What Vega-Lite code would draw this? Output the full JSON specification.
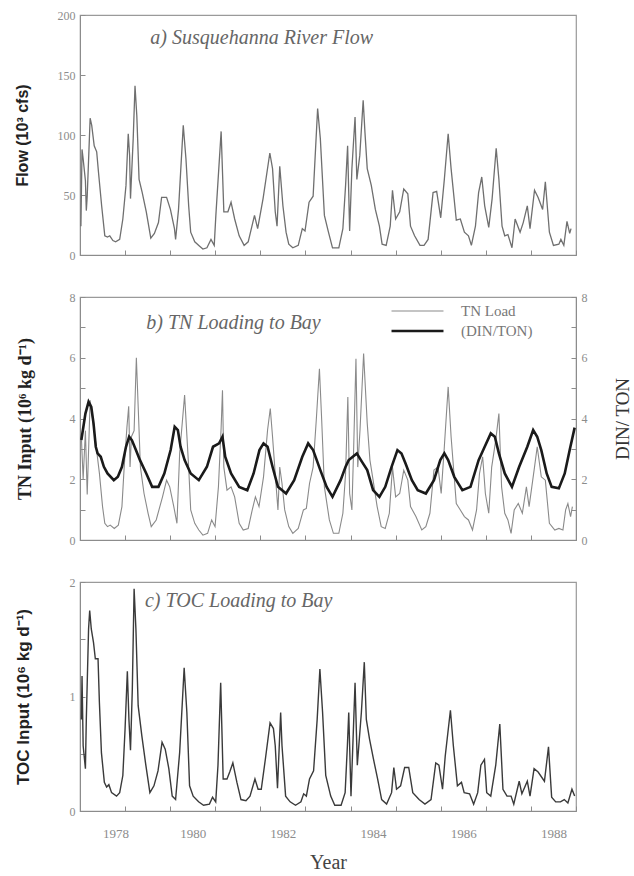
{
  "$schema": "https://vega.github.io/schema/vega-lite/v6.json",
  "background": "white",
  "padding": {"left": 13, "top": 8, "right": 5, "bottom": 0},
  "spacing": 42,
  "bounds": "flush",
  "datasets": {
    "flow": [
      {"t":1978.02,"v":24},{"t":1978.045,"v":88},{"t":1978.07,"v":80},{"t":1978.12,"v":62},{"t":1978.14,"v":37},{"t":1978.16,"v":49},{"t":1978.225,"v":114},{"t":1978.26,"v":108},{"t":1978.315,"v":91},{"t":1978.37,"v":86},{"t":1978.41,"v":69},{"t":1978.48,"v":41},{"t":1978.55,"v":16},{"t":1978.61,"v":15},{"t":1978.66,"v":16},{"t":1978.73,"v":12},{"t":1978.79,"v":11},{"t":1978.88,"v":13},{"t":1978.95,"v":30},
      {"t":1979.02,"v":58},{"t":1979.07,"v":101},{"t":1979.10,"v":83},{"t":1979.12,"v":47},{"t":1979.18,"v":97},{"t":1979.22,"v":141},{"t":1979.26,"v":116},{"t":1979.31,"v":63},{"t":1979.38,"v":52},{"t":1979.47,"v":36},{"t":1979.57,"v":14},{"t":1979.65,"v":18},{"t":1979.74,"v":27},{"t":1979.81,"v":48},{"t":1979.92,"v":48},
      {"t":1980.005,"v":38},{"t":1980.095,"v":22},{"t":1980.12,"v":13},{"t":1980.185,"v":38},{"t":1980.29,"v":108},{"t":1980.35,"v":80},{"t":1980.41,"v":41},{"t":1980.455,"v":19},{"t":1980.545,"v":11},{"t":1980.635,"v":8},{"t":1980.725,"v":5},{"t":1980.815,"v":6},{"t":1980.905,"v":13},{"t":1980.977,"v":8},
      {"t":1981.013,"v":33},{"t":1981.13,"v":103},{"t":1981.19,"v":36},{"t":1981.28,"v":36},{"t":1981.35,"v":44},{"t":1981.43,"v":30},{"t":1981.53,"v":16},{"t":1981.64,"v":8},{"t":1981.73,"v":11},{"t":1981.80,"v":22},{"t":1981.87,"v":33},{"t":1981.94,"v":22},
      {"t":1982.06,"v":47},{"t":1982.21,"v":85},{"t":1982.27,"v":72},{"t":1982.33,"v":36},{"t":1982.37,"v":24},{"t":1982.43,"v":74},{"t":1982.50,"v":41},{"t":1982.57,"v":19},{"t":1982.63,"v":9},{"t":1982.72,"v":6},{"t":1982.84,"v":8},{"t":1982.93,"v":22},{"t":1982.99,"v":20},
      {"t":1983.08,"v":44},{"t":1983.17,"v":49},{"t":1983.27,"v":122},{"t":1983.33,"v":97},{"t":1983.42,"v":33},{"t":1983.51,"v":19},{"t":1983.60,"v":6},{"t":1983.74,"v":6},{"t":1983.83,"v":22},{"t":1983.89,"v":58},{"t":1983.935,"v":91},{"t":1983.98,"v":20},
      {"t":1984.03,"v":72},{"t":1984.10,"v":115},{"t":1984.14,"v":63},{"t":1984.205,"v":83},{"t":1984.28,"v":129},{"t":1984.32,"v":102},{"t":1984.37,"v":72},{"t":1984.46,"v":58},{"t":1984.55,"v":38},{"t":1984.64,"v":24},{"t":1984.70,"v":9},{"t":1984.79,"v":8},{"t":1984.88,"v":24},{"t":1984.93,"v":54},
      {"t":1985.00,"v":30},{"t":1985.09,"v":36},{"t":1985.18,"v":55},{"t":1985.27,"v":51},{"t":1985.33,"v":24},{"t":1985.42,"v":16},{"t":1985.54,"v":8},{"t":1985.63,"v":8},{"t":1985.72,"v":13},{"t":1985.83,"v":52},{"t":1985.91,"v":53},
      {"t":1986.00,"v":31},{"t":1986.08,"v":63},{"t":1986.165,"v":101},{"t":1986.23,"v":72},{"t":1986.345,"v":29},{"t":1986.435,"v":30},{"t":1986.525,"v":19},{"t":1986.615,"v":16},{"t":1986.68,"v":8},{"t":1986.77,"v":24},{"t":1986.84,"v":52},{"t":1986.91,"v":65},{"t":1986.975,"v":41},
      {"t":1987.065,"v":23},{"t":1987.14,"v":47},{"t":1987.23,"v":89},{"t":1987.29,"v":63},{"t":1987.36,"v":24},{"t":1987.42,"v":16},{"t":1987.49,"v":17},{"t":1987.58,"v":6},{"t":1987.65,"v":30},{"t":1987.76,"v":19},{"t":1987.83,"v":27},{"t":1987.92,"v":41},{"t":1987.98,"v":22},
      {"t":1988.08,"v":54},{"t":1988.16,"v":48},{"t":1988.26,"v":38},{"t":1988.32,"v":61},{"t":1988.41,"v":19},{"t":1988.50,"v":8},{"t":1988.62,"v":9},{"t":1988.665,"v":13},{"t":1988.73,"v":8},{"t":1988.80,"v":28},{"t":1988.86,"v":18},{"t":1988.89,"v":22}
    ],
    "tn": [
      {"t":1978.03,"v":3.4,"s":"TN Load"},{"t":1978.07,"v":2.0,"s":"TN Load"},{"t":1978.12,"v":3.6,"s":"TN Load"},{"t":1978.16,"v":1.5,"s":"TN Load"},{"t":1978.225,"v":4.6,"s":"TN Load"},{"t":1978.34,"v":3.3,"s":"TN Load"},{"t":1978.43,"v":2.2,"s":"TN Load"},{"t":1978.50,"v":1.1,"s":"TN Load"},{"t":1978.55,"v":0.55,"s":"TN Load"},{"t":1978.61,"v":0.44,"s":"TN Load"},{"t":1978.67,"v":0.49,"s":"TN Load"},{"t":1978.76,"v":0.38,"s":"TN Load"},{"t":1978.85,"v":0.49,"s":"TN Load"},{"t":1978.93,"v":1.1,"s":"TN Load"},{"t":1978.98,"v":2.4,"s":"TN Load"},
      {"t":1979.04,"v":3.7,"s":"TN Load"},{"t":1979.08,"v":4.4,"s":"TN Load"},{"t":1979.11,"v":2.4,"s":"TN Load"},{"t":1979.14,"v":3.4,"s":"TN Load"},{"t":1979.20,"v":3.6,"s":"TN Load"},{"t":1979.25,"v":6.0,"s":"TN Load"},{"t":1979.29,"v":4.4,"s":"TN Load"},{"t":1979.34,"v":2.4,"s":"TN Load"},{"t":1979.42,"v":1.53,"s":"TN Load"},{"t":1979.51,"v":0.88,"s":"TN Load"},{"t":1979.58,"v":0.44,"s":"TN Load"},{"t":1979.69,"v":0.66,"s":"TN Load"},{"t":1979.83,"v":1.42,"s":"TN Load"},{"t":1979.92,"v":1.97,"s":"TN Load"},{"t":1979.99,"v":1.75,"s":"TN Load"},
      {"t":1980.08,"v":1.1,"s":"TN Load"},{"t":1980.15,"v":0.55,"s":"TN Load"},{"t":1980.21,"v":2.85,"s":"TN Load"},{"t":1980.32,"v":4.77,"s":"TN Load"},{"t":1980.41,"v":2.4,"s":"TN Load"},{"t":1980.455,"v":0.99,"s":"TN Load"},{"t":1980.545,"v":0.55,"s":"TN Load"},{"t":1980.635,"v":0.33,"s":"TN Load"},{"t":1980.725,"v":0.16,"s":"TN Load"},{"t":1980.83,"v":0.22,"s":"TN Load"},{"t":1980.92,"v":0.66,"s":"TN Load"},{"t":1980.995,"v":0.44,"s":"TN Load"},
      {"t":1981.07,"v":1.75,"s":"TN Load"},{"t":1981.13,"v":3.7,"s":"TN Load"},{"t":1981.16,"v":4.93,"s":"TN Load"},{"t":1981.19,"v":2.4,"s":"TN Load"},{"t":1981.26,"v":1.64,"s":"TN Load"},{"t":1981.35,"v":1.75,"s":"TN Load"},{"t":1981.43,"v":1.42,"s":"TN Load"},{"t":1981.53,"v":0.55,"s":"TN Load"},{"t":1981.62,"v":0.33,"s":"TN Load"},{"t":1981.73,"v":0.38,"s":"TN Load"},{"t":1981.82,"v":0.99,"s":"TN Load"},{"t":1981.89,"v":1.42,"s":"TN Load"},{"t":1981.97,"v":1.1,"s":"TN Load"},
      {"t":1982.07,"v":2.08,"s":"TN Load"},{"t":1982.16,"v":3.62,"s":"TN Load"},{"t":1982.22,"v":4.33,"s":"TN Load"},{"t":1982.27,"v":3.4,"s":"TN Load"},{"t":1982.34,"v":1.97,"s":"TN Load"},{"t":1982.39,"v":0.99,"s":"TN Load"},{"t":1982.43,"v":2.4,"s":"TN Load"},{"t":1982.48,"v":1.86,"s":"TN Load"},{"t":1982.54,"v":0.99,"s":"TN Load"},{"t":1982.63,"v":0.44,"s":"TN Load"},{"t":1982.72,"v":0.22,"s":"TN Load"},{"t":1982.84,"v":0.38,"s":"TN Load"},{"t":1982.955,"v":0.99,"s":"TN Load"},
      {"t":1983.02,"v":1.04,"s":"TN Load"},{"t":1983.09,"v":1.86,"s":"TN Load"},{"t":1983.17,"v":2.4,"s":"TN Load"},{"t":1983.24,"v":3.95,"s":"TN Load"},{"t":1983.31,"v":5.64,"s":"TN Load"},{"t":1983.36,"v":3.95,"s":"TN Load"},{"t":1983.42,"v":1.75,"s":"TN Load"},{"t":1983.53,"v":0.66,"s":"TN Load"},{"t":1983.62,"v":0.22,"s":"TN Load"},{"t":1983.74,"v":0.22,"s":"TN Load"},{"t":1983.83,"v":0.88,"s":"TN Load"},{"t":1983.89,"v":2.19,"s":"TN Load"},{"t":1983.94,"v":4.71,"s":"TN Load"},{"t":1983.98,"v":1.53,"s":"TN Load"},
      {"t":1984.03,"v":0.99,"s":"TN Load"},{"t":1984.07,"v":3.07,"s":"TN Load"},{"t":1984.12,"v":5.97,"s":"TN Load"},{"t":1984.16,"v":2.4,"s":"TN Load"},{"t":1984.21,"v":3.62,"s":"TN Load"},{"t":1984.29,"v":6.14,"s":"TN Load"},{"t":1984.32,"v":5.26,"s":"TN Load"},{"t":1984.37,"v":3.84,"s":"TN Load"},{"t":1984.43,"v":2.63,"s":"TN Load"},{"t":1984.50,"v":1.97,"s":"TN Load"},{"t":1984.59,"v":1.1,"s":"TN Load"},{"t":1984.68,"v":0.44,"s":"TN Load"},{"t":1984.77,"v":0.38,"s":"TN Load"},{"t":1984.86,"v":0.88,"s":"TN Load"},{"t":1984.93,"v":2.4,"s":"TN Load"},
      {"t":1985.00,"v":1.42,"s":"TN Load"},{"t":1985.09,"v":1.53,"s":"TN Load"},{"t":1985.18,"v":2.3,"s":"TN Load"},{"t":1985.27,"v":1.97,"s":"TN Load"},{"t":1985.33,"v":1.1,"s":"TN Load"},{"t":1985.45,"v":0.77,"s":"TN Load"},{"t":1985.58,"v":0.33,"s":"TN Load"},{"t":1985.67,"v":0.44,"s":"TN Load"},{"t":1985.76,"v":0.88,"s":"TN Load"},{"t":1985.85,"v":2.3,"s":"TN Load"},{"t":1985.94,"v":2.4,"s":"TN Load"},
      {"t":1986.01,"v":1.53,"s":"TN Load"},{"t":1986.08,"v":3.07,"s":"TN Load"},{"t":1986.165,"v":5.04,"s":"TN Load"},{"t":1986.23,"v":3.4,"s":"TN Load"},{"t":1986.345,"v":1.2,"s":"TN Load"},{"t":1986.435,"v":0.99,"s":"TN Load"},{"t":1986.525,"v":0.77,"s":"TN Load"},{"t":1986.615,"v":0.66,"s":"TN Load"},{"t":1986.705,"v":0.33,"s":"TN Load"},{"t":1986.795,"v":0.99,"s":"TN Load"},{"t":1986.86,"v":2.19,"s":"TN Load"},{"t":1986.93,"v":2.74,"s":"TN Load"},{"t":1986.99,"v":1.53,"s":"TN Load"},
      {"t":1987.065,"v":0.88,"s":"TN Load"},{"t":1987.13,"v":2.4,"s":"TN Load"},{"t":1987.22,"v":3.29,"s":"TN Load"},{"t":1987.29,"v":4.16,"s":"TN Load"},{"t":1987.35,"v":1.75,"s":"TN Load"},{"t":1987.42,"v":0.88,"s":"TN Load"},{"t":1987.49,"v":0.66,"s":"TN Load"},{"t":1987.56,"v":0.22,"s":"TN Load"},{"t":1987.63,"v":0.99,"s":"TN Load"},{"t":1987.72,"v":1.2,"s":"TN Load"},{"t":1987.81,"v":0.88,"s":"TN Load"},{"t":1987.90,"v":1.75,"s":"TN Load"},{"t":1987.96,"v":1.1,"s":"TN Load"},
      {"t":1988.08,"v":2.4,"s":"TN Load"},{"t":1988.14,"v":3.07,"s":"TN Load"},{"t":1988.23,"v":2.08,"s":"TN Load"},{"t":1988.32,"v":1.97,"s":"TN Load"},{"t":1988.41,"v":0.55,"s":"TN Load"},{"t":1988.53,"v":0.33,"s":"TN Load"},{"t":1988.62,"v":0.38,"s":"TN Load"},{"t":1988.71,"v":0.33,"s":"TN Load"},{"t":1988.77,"v":0.99,"s":"TN Load"},{"t":1988.82,"v":1.2,"s":"TN Load"},{"t":1988.88,"v":0.77,"s":"TN Load"},{"t":1988.92,"v":1.1,"s":"TN Load"}
    ],
    "din": [
      {"t":1978.03,"v":3.29,"s":"(DIN/TON)"},{"t":1978.12,"v":4.16,"s":"(DIN/TON)"},{"t":1978.19,"v":4.55,"s":"(DIN/TON)"},{"t":1978.25,"v":4.38,"s":"(DIN/TON)"},{"t":1978.30,"v":3.84,"s":"(DIN/TON)"},{"t":1978.35,"v":3.07,"s":"(DIN/TON)"},{"t":1978.39,"v":2.85,"s":"(DIN/TON)"},{"t":1978.46,"v":2.74,"s":"(DIN/TON)"},{"t":1978.53,"v":2.41,"s":"(DIN/TON)"},{"t":1978.61,"v":2.19,"s":"(DIN/TON)"},{"t":1978.75,"v":1.97,"s":"(DIN/TON)"},{"t":1978.84,"v":2.08,"s":"(DIN/TON)"},{"t":1978.93,"v":2.41,"s":"(DIN/TON)"},
      {"t":1979.02,"v":3.07,"s":"(DIN/TON)"},{"t":1979.09,"v":3.4,"s":"(DIN/TON)"},{"t":1979.15,"v":3.29,"s":"(DIN/TON)"},{"t":1979.24,"v":2.96,"s":"(DIN/TON)"},{"t":1979.33,"v":2.63,"s":"(DIN/TON)"},{"t":1979.47,"v":2.19,"s":"(DIN/TON)"},{"t":1979.60,"v":1.75,"s":"(DIN/TON)"},{"t":1979.74,"v":1.75,"s":"(DIN/TON)"},{"t":1979.87,"v":2.19,"s":"(DIN/TON)"},
      {"t":1980.01,"v":2.96,"s":"(DIN/TON)"},{"t":1980.10,"v":3.73,"s":"(DIN/TON)"},{"t":1980.17,"v":3.62,"s":"(DIN/TON)"},{"t":1980.23,"v":3.07,"s":"(DIN/TON)"},{"t":1980.32,"v":2.63,"s":"(DIN/TON)"},{"t":1980.455,"v":2.19,"s":"(DIN/TON)"},{"t":1980.635,"v":1.97,"s":"(DIN/TON)"},{"t":1980.815,"v":2.41,"s":"(DIN/TON)"},{"t":1980.95,"v":3.07,"s":"(DIN/TON)"},
      {"t":1981.085,"v":3.18,"s":"(DIN/TON)"},{"t":1981.16,"v":3.4,"s":"(DIN/TON)"},{"t":1981.22,"v":2.74,"s":"(DIN/TON)"},{"t":1981.35,"v":2.19,"s":"(DIN/TON)"},{"t":1981.53,"v":1.75,"s":"(DIN/TON)"},{"t":1981.71,"v":1.64,"s":"(DIN/TON)"},{"t":1981.85,"v":2.19,"s":"(DIN/TON)"},{"t":1981.98,"v":2.96,"s":"(DIN/TON)"},
      {"t":1982.07,"v":3.18,"s":"(DIN/TON)"},{"t":1982.16,"v":3.07,"s":"(DIN/TON)"},{"t":1982.27,"v":2.41,"s":"(DIN/TON)"},{"t":1982.39,"v":1.75,"s":"(DIN/TON)"},{"t":1982.57,"v":1.53,"s":"(DIN/TON)"},{"t":1982.75,"v":1.97,"s":"(DIN/TON)"},{"t":1982.93,"v":2.74,"s":"(DIN/TON)"},
      {"t":1983.06,"v":3.18,"s":"(DIN/TON)"},{"t":1983.17,"v":2.96,"s":"(DIN/TON)"},{"t":1983.33,"v":2.30,"s":"(DIN/TON)"},{"t":1983.47,"v":1.75,"s":"(DIN/TON)"},{"t":1983.60,"v":1.42,"s":"(DIN/TON)"},{"t":1983.78,"v":1.97,"s":"(DIN/TON)"},{"t":1983.89,"v":2.41,"s":"(DIN/TON)"},{"t":1983.96,"v":2.63,"s":"(DIN/TON)"},
      {"t":1984.05,"v":2.74,"s":"(DIN/TON)"},{"t":1984.14,"v":2.85,"s":"(DIN/TON)"},{"t":1984.23,"v":2.63,"s":"(DIN/TON)"},{"t":1984.37,"v":2.30,"s":"(DIN/TON)"},{"t":1984.50,"v":1.64,"s":"(DIN/TON)"},{"t":1984.64,"v":1.42,"s":"(DIN/TON)"},{"t":1984.77,"v":1.75,"s":"(DIN/TON)"},{"t":1984.91,"v":2.41,"s":"(DIN/TON)"},
      {"t":1985.04,"v":2.96,"s":"(DIN/TON)"},{"t":1985.13,"v":2.85,"s":"(DIN/TON)"},{"t":1985.22,"v":2.52,"s":"(DIN/TON)"},{"t":1985.36,"v":1.97,"s":"(DIN/TON)"},{"t":1985.49,"v":1.64,"s":"(DIN/TON)"},{"t":1985.67,"v":1.53,"s":"(DIN/TON)"},{"t":1985.85,"v":1.97,"s":"(DIN/TON)"},{"t":1985.99,"v":2.63,"s":"(DIN/TON)"},
      {"t":1986.08,"v":2.85,"s":"(DIN/TON)"},{"t":1986.165,"v":2.63,"s":"(DIN/TON)"},{"t":1986.30,"v":2.08,"s":"(DIN/TON)"},{"t":1986.48,"v":1.64,"s":"(DIN/TON)"},{"t":1986.66,"v":1.75,"s":"(DIN/TON)"},{"t":1986.84,"v":2.63,"s":"(DIN/TON)"},{"t":1986.975,"v":3.07,"s":"(DIN/TON)"},
      {"t":1987.11,"v":3.51,"s":"(DIN/TON)"},{"t":1987.20,"v":3.40,"s":"(DIN/TON)"},{"t":1987.29,"v":2.85,"s":"(DIN/TON)"},{"t":1987.42,"v":2.19,"s":"(DIN/TON)"},{"t":1987.58,"v":1.75,"s":"(DIN/TON)"},{"t":1987.74,"v":2.41,"s":"(DIN/TON)"},{"t":1987.92,"v":3.07,"s":"(DIN/TON)"},
      {"t":1988.05,"v":3.62,"s":"(DIN/TON)"},{"t":1988.14,"v":3.40,"s":"(DIN/TON)"},{"t":1988.23,"v":2.96,"s":"(DIN/TON)"},{"t":1988.35,"v":2.19,"s":"(DIN/TON)"},{"t":1988.46,"v":1.75,"s":"(DIN/TON)"},{"t":1988.62,"v":1.70,"s":"(DIN/TON)"},{"t":1988.75,"v":2.19,"s":"(DIN/TON)"},{"t":1988.86,"v":2.96,"s":"(DIN/TON)"},{"t":1988.97,"v":3.7,"s":"(DIN/TON)"}
    ],
    "toc": [
      {"t":1978.03,"v":0.80},{"t":1978.045,"v":1.18},{"t":1978.07,"v":0.57},{"t":1978.12,"v":0.37},{"t":1978.14,"v":0.80},{"t":1978.19,"v":1.59},{"t":1978.215,"v":1.75},{"t":1978.25,"v":1.59},{"t":1978.30,"v":1.47},{"t":1978.34,"v":1.33},{"t":1978.40,"v":1.33},{"t":1978.43,"v":0.95},{"t":1978.475,"v":0.51},{"t":1978.54,"v":0.25},{"t":1978.59,"v":0.21},{"t":1978.64,"v":0.23},{"t":1978.70,"v":0.16},{"t":1978.81,"v":0.13},{"t":1978.88,"v":0.16},{"t":1978.95,"v":0.31},
      {"t":1979.00,"v":0.72},{"t":1979.05,"v":1.22},{"t":1979.085,"v":0.80},{"t":1979.12,"v":0.53},{"t":1979.16,"v":1.06},{"t":1979.20,"v":1.94},{"t":1979.24,"v":1.59},{"t":1979.29,"v":0.92},{"t":1979.37,"v":0.66},{"t":1979.46,"v":0.40},{"t":1979.55,"v":0.16},{"t":1979.64,"v":0.22},{"t":1979.73,"v":0.35},{"t":1979.82,"v":0.60},{"t":1979.89,"v":0.54},{"t":1979.97,"v":0.37},
      {"t":1980.045,"v":0.13},{"t":1980.12,"v":0.10},{"t":1980.21,"v":0.51},{"t":1980.31,"v":1.25},{"t":1980.37,"v":0.86},{"t":1980.43,"v":0.22},{"t":1980.51,"v":0.13},{"t":1980.63,"v":0.08},{"t":1980.74,"v":0.05},{"t":1980.87,"v":0.06},{"t":1980.94,"v":0.12},
      {"t":1981.01,"v":0.08},{"t":1981.06,"v":0.40},{"t":1981.12,"v":1.12},{"t":1981.175,"v":0.28},{"t":1981.26,"v":0.28},{"t":1981.32,"v":0.34},{"t":1981.39,"v":0.42},{"t":1981.48,"v":0.25},{"t":1981.57,"v":0.10},{"t":1981.68,"v":0.09},{"t":1981.77,"v":0.13},{"t":1981.88,"v":0.28},{"t":1981.95,"v":0.19},
      {"t":1982.02,"v":0.19},{"t":1982.11,"v":0.45},{"t":1982.215,"v":0.77},{"t":1982.29,"v":0.72},{"t":1982.33,"v":0.57},{"t":1982.38,"v":0.20},{"t":1982.45,"v":0.86},{"t":1982.48,"v":0.57},{"t":1982.56,"v":0.13},{"t":1982.66,"v":0.08},{"t":1982.78,"v":0.05},{"t":1982.90,"v":0.08},{"t":1982.96,"v":0.15},
      {"t":1983.02,"v":0.13},{"t":1983.09,"v":0.28},{"t":1983.18,"v":0.35},{"t":1983.26,"v":0.80},{"t":1983.32,"v":1.24},{"t":1983.38,"v":0.86},{"t":1983.45,"v":0.31},{"t":1983.56,"v":0.13},{"t":1983.65,"v":0.05},{"t":1983.79,"v":0.05},{"t":1983.88,"v":0.16},{"t":1983.93,"v":0.57},{"t":1983.96,"v":0.86},
      {"t":1984.01,"v":0.13},{"t":1984.045,"v":0.51},{"t":1984.10,"v":1.12},{"t":1984.15,"v":0.40},{"t":1984.24,"v":0.86},{"t":1984.305,"v":1.30},{"t":1984.35,"v":0.80},{"t":1984.42,"v":0.63},{"t":1984.51,"v":0.45},{"t":1984.60,"v":0.28},{"t":1984.69,"v":0.10},{"t":1984.80,"v":0.06},{"t":1984.91,"v":0.16},{"t":1984.96,"v":0.38},
      {"t":1985.02,"v":0.19},{"t":1985.11,"v":0.22},{"t":1985.20,"v":0.38},{"t":1985.29,"v":0.38},{"t":1985.38,"v":0.16},{"t":1985.52,"v":0.10},{"t":1985.65,"v":0.06},{"t":1985.785,"v":0.10},{"t":1985.89,"v":0.42},{"t":1985.96,"v":0.40},
      {"t":1986.04,"v":0.19},{"t":1986.10,"v":0.48},{"t":1986.215,"v":0.88},{"t":1986.28,"v":0.57},{"t":1986.37,"v":0.22},{"t":1986.46,"v":0.25},{"t":1986.52,"v":0.16},{"t":1986.64,"v":0.15},{"t":1986.73,"v":0.06},{"t":1986.82,"v":0.16},{"t":1986.89,"v":0.40},{"t":1986.97,"v":0.45},
      {"t":1987.02,"v":0.16},{"t":1987.11,"v":0.13},{"t":1987.22,"v":0.40},{"t":1987.31,"v":0.76},{"t":1987.38,"v":0.19},{"t":1987.47,"v":0.13},{"t":1987.56,"v":0.13},{"t":1987.62,"v":0.06},{"t":1987.74,"v":0.26},{"t":1987.80,"v":0.15},{"t":1987.92,"v":0.26},{"t":1987.98,"v":0.13},
      {"t":1988.07,"v":0.37},{"t":1988.16,"v":0.34},{"t":1988.30,"v":0.26},{"t":1988.39,"v":0.56},{"t":1988.46,"v":0.12},{"t":1988.55,"v":0.08},{"t":1988.655,"v":0.08},{"t":1988.74,"v":0.10},{"t":1988.82,"v":0.07},{"t":1988.91,"v":0.19},{"t":1988.97,"v":0.13}
    ]
  },
  "vconcat": [
    {
      "width": 496,
      "height": 240,
      "layer": [
        {
          "data": {"name": "flow"},
          "mark": {"type": "line", "color": "#6f6f6f", "strokeWidth": 1.3},
          "encoding": {
            "x": {"field": "t", "type": "quantitative", "scale": {"domain": [1978, 1989], "nice": false, "zero": false},
                  "axis": {"values": [1978,1979,1980,1981,1982,1983,1984,1985,1986,1987,1988,1989], "labels": false, "title": null}},
            "y": {"field": "v", "type": "quantitative", "scale": {"domain": [0, 200], "nice": false},
                  "axis": {"values": [0,25,50,75,100,125,150,175,200], "labelExpr": "datum.value % 50 == 0 ? datum.label : ''",
                           "title": "Flow (10³ cfs)", "titleFont": "Liberation Sans", "titleFontWeight": "bold", "titleFontSize": 16, "titleColor": "#222", "titlePadding": 27}}
          }
        },
        {
          "data": {"values": [{}]},
          "mark": {"type": "text", "font": "Liberation Serif", "fontStyle": "italic", "fontSize": 20, "color": "#666", "align": "left", "baseline": "middle"},
          "encoding": {
            "x": {"datum": 1979.56, "type": "quantitative"},
            "y": {"datum": 181, "type": "quantitative"},
            "text": {"value": "a) Susquehanna River Flow"}
          }
        }
      ]
    },
    {
      "width": 496,
      "height": 243,
      "resolve": {"scale": {"y": "independent"}},
      "layer": [
        {
          "data": {"name": "tn"},
          "mark": {"type": "line"},
          "encoding": {
            "x": {"field": "t", "type": "quantitative", "scale": {"domain": [1978, 1989], "nice": false, "zero": false},
                  "axis": {"values": [1978,1979,1980,1981,1982,1983,1984,1985,1986,1987,1988,1989], "labels": false, "title": null}},
            "y": {"field": "v", "type": "quantitative", "scale": {"domain": [0, 8], "nice": false},
                  "axis": {"orient": "left", "values": [0,1,2,3,4,5,6,7,8], "labelExpr": "datum.value % 2 == 0 ? datum.label : ''",
                           "title": "TN Input (10⁶ kg d⁻¹)", "titleFont": "Liberation Serif", "titleFontWeight": "bold", "titleFontSize": 18, "titleColor": "#222", "titlePadding": 35}},
            "color": {"field": "s", "type": "nominal", "scale": {"domain": ["TN Load", "(DIN/TON)"], "range": ["#8a8a8a", "#1a1a1a"]},
                      "legend": {"title": null, "orient": "none", "legendX": 310, "legendY": 286, "symbolType": "stroke", "symbolSize": 2700, "clipHeight": 20, "labelFont": "Liberation Serif", "labelFontSize": 15, "labelColor": "#777", "labelOffset": 16, "rowPadding": 0}},
            "strokeWidth": {"field": "s", "type": "nominal", "scale": {"domain": ["TN Load", "(DIN/TON)"], "range": [1.1, 2.6]},
                      "legend": {"title": null, "orient": "none", "legendX": 310, "legendY": 286, "symbolType": "stroke", "symbolSize": 2700, "clipHeight": 20, "labelFont": "Liberation Serif", "labelFontSize": 15, "labelColor": "#777", "labelOffset": 16, "rowPadding": 0}}
          }
        },
        {
          "data": {"name": "din"},
          "mark": {"type": "line"},
          "encoding": {
            "x": {"field": "t", "type": "quantitative"},
            "y": {"field": "v", "type": "quantitative", "scale": {"domain": [0, 8], "nice": false},
                  "axis": {"orient": "right", "values": [0,1,2,3,4,5,6,7,8], "labelExpr": "datum.value % 2 == 0 ? datum.label : ''",
                           "title": "DIN/ TON", "titleAngle": 270, "titleFont": "Liberation Serif", "titleFontWeight": "normal", "titleFontSize": 19, "titleColor": "#333", "titlePadding": 45}},
            "color": {"field": "s", "type": "nominal"},
            "strokeWidth": {"field": "s", "type": "nominal"}
          }
        },
        {
          "data": {"values": [{}]},
          "mark": {"type": "text", "font": "Liberation Serif", "fontStyle": "italic", "fontSize": 20, "color": "#666", "align": "left", "baseline": "middle"},
          "encoding": {
            "x": {"datum": 1979.47, "type": "quantitative"},
            "y": {"datum": 7.15, "type": "quantitative", "scale": {"domain": [0, 8], "nice": false}, "axis": null},
            "text": {"value": "b) TN Loading to Bay"}
          }
        }
      ]
    },
    {
      "width": 496,
      "height": 229,
      "layer": [
        {
          "data": {"name": "toc"},
          "mark": {"type": "line", "color": "#3a3a3a", "strokeWidth": 1.4},
          "encoding": {
            "x": {"field": "t", "type": "quantitative", "scale": {"domain": [1978, 1989], "nice": false, "zero": false},
                  "axis": {"values": [1978,1979,1980,1981,1982,1983,1984,1985,1986,1987,1988,1989],
                           "labelExpr": "datum.value % 2 == 0 && datum.value < 1989 ? format(datum.value, 'd') : ''",
                           "labelOffset": 22.5, "labelPadding": 21, "labelFontSize": 13,
                           "title": "Year", "titleFont": "Liberation Serif", "titleFontWeight": "normal", "titleFontSize": 20, "titleColor": "#444", "titlePadding": 12}},
            "y": {"field": "v", "type": "quantitative", "scale": {"domain": [0, 2], "nice": false},
                  "axis": {"values": [0,0.5,1,1.5,2], "labelExpr": "datum.value % 1 == 0 ? format(datum.value, 'd') : ''",
                           "title": "TOC Input (10⁶ kg d⁻¹)", "titleFont": "Liberation Sans", "titleFontWeight": "bold", "titleFontSize": 17, "titleColor": "#222", "titlePadding": 37}}
          }
        },
        {
          "data": {"values": [{}]},
          "mark": {"type": "text", "font": "Liberation Serif", "fontStyle": "italic", "fontSize": 20, "color": "#666", "align": "left", "baseline": "middle"},
          "encoding": {
            "x": {"datum": 1979.44, "type": "quantitative"},
            "y": {"datum": 1.83, "type": "quantitative"},
            "text": {"value": "c) TOC Loading to Bay"}
          }
        }
      ]
    }
  ],
  "config": {
    "view": {"stroke": "#9a9a9a", "strokeWidth": 1.2},
    "axis": {
      "labelFont": "Liberation Serif", "labelColor": "#8c8c8c", "labelFontSize": 12,
      "domainColor": "#8c8c8c", "tickColor": "#8c8c8c", "grid": false,
      "tickSize": -5, "labelPadding": 10
    }
  }
}
